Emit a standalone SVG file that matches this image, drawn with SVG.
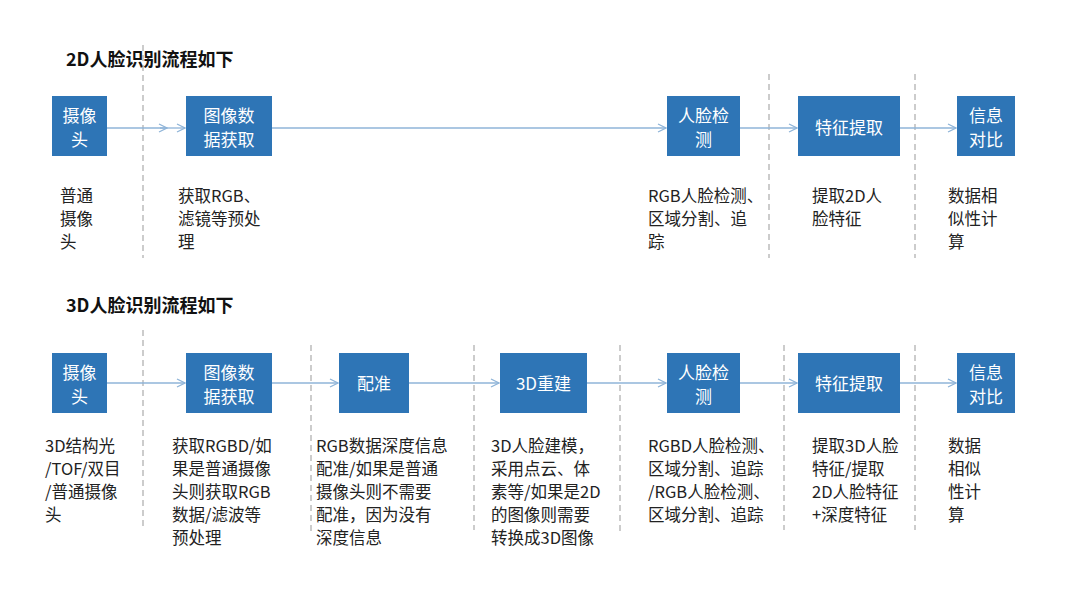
<svg xmlns="http://www.w3.org/2000/svg" width="1080" height="608" viewBox="0 0 1080 608">
<defs>
<marker id="a" viewBox="0 0 10 10" refX="9" refY="5" markerWidth="10" markerHeight="10" markerUnits="userSpaceOnUse" orient="auto"><path d="M1,1 L9,5 L1,9" fill="none" stroke="#8fb4d8" stroke-width="1.3"/></marker>
<style>
.b{fill:#2e75b6}
.bt{font-family:"Noto Sans CJK SC",sans-serif;font-size:17px;fill:#fff;text-anchor:middle}
.t{font-family:"Noto Sans CJK SC",sans-serif;font-size:16.5px;fill:#222}
.h{font-family:"Noto Sans CJK SC",sans-serif;font-size:18px;font-weight:bold;fill:#111}
.d{stroke:#999;stroke-dasharray:6,4;stroke-width:1}
.c{stroke:#8fb4d8;stroke-width:1.3;fill:none;marker-end:url(#a)}
</style>
</defs>
<rect width="1080" height="608" fill="#fff"/>
<text class="h" x="66" y="66">2D人脸识别流程如下</text>
<text class="h" x="66" y="312">3D人脸识别流程如下</text>
<g id="dividers">
<line class="d" x1="143" y1="45" x2="143" y2="258"/><line class="d" x1="769" y1="74" x2="769" y2="258"/><line class="d" x1="915" y1="74" x2="915" y2="258"/>
<line class="d" x1="143" y1="330" x2="143" y2="530"/><line class="d" x1="311" y1="345" x2="311" y2="535"/><line class="d" x1="474" y1="345" x2="474" y2="530"/><line class="d" x1="620" y1="345" x2="620" y2="535"/><line class="d" x1="784" y1="345" x2="784" y2="530"/><line class="d" x1="915" y1="345" x2="915" y2="530"/>
</g>
<g id="connectors">
<path class="c" d="M107,128 H167"/><path class="c" d="M160,128 H185"/>
<path class="c" d="M272,128 H666"/>
<path class="c" d="M740,128 H797"/>
<path class="c" d="M900,128 H956"/>
<path class="c" d="M107,383 H185"/>
<path class="c" d="M272,383 H338"/>
<path class="c" d="M409,383 H499"/>
<path class="c" d="M587,383 H666"/>
<path class="c" d="M740,383 H797"/>
<path class="c" d="M900,383 H956"/>
</g>
<g id="n1"><rect class="b" x="52" y="96" width="55" height="60"/><text class="bt" x="79.5" y="122">摄像</text><text class="bt" x="79.5" y="146">头</text>
<text class="t" x="60" y="202">普通</text><text class="t" x="60" y="225">摄像</text><text class="t" x="60" y="248">头</text></g>
<g id="n2"><rect class="b" x="186" y="96" width="86" height="60"/><text class="bt" x="229" y="122">图像数</text><text class="bt" x="229" y="146">据获取</text>
<text class="t" x="178" y="202">获取RGB、</text><text class="t" x="178" y="225">滤镜等预处</text><text class="t" x="178" y="248">理</text></g>
<g id="n3"><rect class="b" x="667" y="96" width="73" height="60"/><text class="bt" x="703.5" y="122">人脸检</text><text class="bt" x="703.5" y="146">测</text>
<text class="t" x="648" y="202">RGB人脸检测、</text><text class="t" x="648" y="225">区域分割、追</text><text class="t" x="648" y="248">踪</text></g>
<g id="n4"><rect class="b" x="798" y="96" width="102" height="60"/><text class="bt" x="849" y="134">特征提取</text>
<text class="t" x="812" y="202">提取2D人</text><text class="t" x="812" y="225">脸特征</text></g>
<g id="n5"><rect class="b" x="957" y="96" width="58" height="60"/><text class="bt" x="986" y="122">信息</text><text class="bt" x="986" y="146">对比</text>
<text class="t" x="948" y="202">数据相</text><text class="t" x="948" y="225">似性计</text><text class="t" x="948" y="248">算</text></g>
<g id="m1"><rect class="b" x="52" y="353" width="55" height="60"/><text class="bt" x="79.5" y="379">摄像</text><text class="bt" x="79.5" y="403">头</text>
<text class="t" x="45" y="452">3D结构光</text><text class="t" x="45" y="475">/TOF/双目</text><text class="t" x="45" y="498">/普通摄像</text><text class="t" x="45" y="521">头</text></g>
<g id="m2"><rect class="b" x="186" y="353" width="86" height="60"/><text class="bt" x="229" y="379">图像数</text><text class="bt" x="229" y="403">据获取</text>
<text class="t" x="172" y="452">获取RGBD/如</text><text class="t" x="172" y="475">果是普通摄像</text><text class="t" x="172" y="498">头则获取RGB</text><text class="t" x="172" y="521">数据/滤波等</text><text class="t" x="172" y="544">预处理</text></g>
<g id="m3"><rect class="b" x="339" y="353" width="70" height="60"/><text class="bt" x="374" y="390">配准</text>
<text class="t" x="316" y="452">RGB数据深度信息</text><text class="t" x="316" y="475">配准/如果是普通</text><text class="t" x="316" y="498">摄像头则不需要</text><text class="t" x="316" y="521">配准，因为没有</text><text class="t" x="316" y="544">深度信息</text></g>
<g id="m4"><rect class="b" x="500" y="353" width="87" height="60"/><text class="bt" x="543.5" y="390">3D重建</text>
<text class="t" x="491" y="452">3D人脸建模，</text><text class="t" x="491" y="475">采用点云、体</text><text class="t" x="491" y="498">素等/如果是2D</text><text class="t" x="491" y="521">的图像则需要</text><text class="t" x="491" y="544">转换成3D图像</text></g>
<g id="m5"><rect class="b" x="667" y="353" width="73" height="60"/><text class="bt" x="703.5" y="379">人脸检</text><text class="bt" x="703.5" y="403">测</text>
<text class="t" x="648" y="452">RGBD人脸检测、</text><text class="t" x="648" y="475">区域分割、追踪</text><text class="t" x="648" y="498">/RGB人脸检测、</text><text class="t" x="648" y="521">区域分割、追踪</text></g>
<g id="m6"><rect class="b" x="798" y="353" width="102" height="60"/><text class="bt" x="849" y="390">特征提取</text>
<text class="t" x="812" y="452">提取3D人脸</text><text class="t" x="812" y="475">特征/提取</text><text class="t" x="812" y="498">2D人脸特征</text><text class="t" x="812" y="521">+深度特征</text></g>
<g id="m7"><rect class="b" x="957" y="353" width="58" height="60"/><text class="bt" x="986" y="379">信息</text><text class="bt" x="986" y="403">对比</text>
<text class="t" x="948" y="452">数据</text><text class="t" x="948" y="475">相似</text><text class="t" x="948" y="498">性计</text><text class="t" x="948" y="521">算</text></g>
</svg>
